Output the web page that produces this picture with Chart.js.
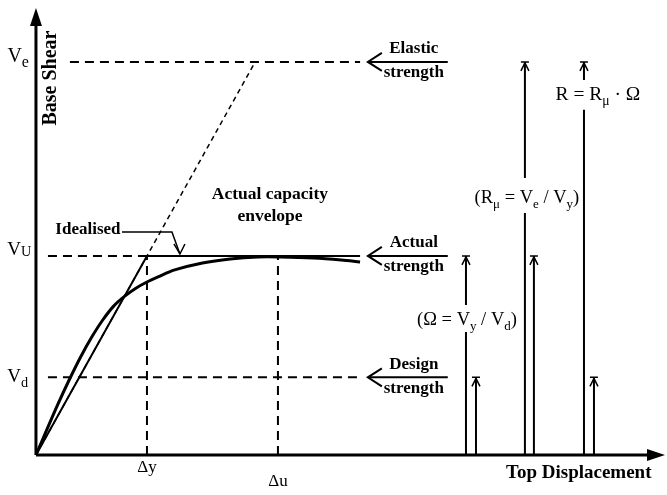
<!DOCTYPE html>
<html>
<head>
<meta charset="utf-8">
<script src="https://cdn.jsdelivr.net/npm/chart.js@4.4.1/dist/chart.umd.min.js"></script>
<style>
  body { margin: 0; background: #fff; }
  #chart { display: block; }
</style>
</head>
<body>
<canvas id="chart" width="667" height="495"></canvas>
<script>
// capacity curve (x: displacement / Δy, y: base shear / Vy)
const curveX = [0, 0.1, 0.2, 0.3, 0.4, 0.5, 0.6, 0.7, 0.8, 0.9, 1.0, 1.1, 1.25, 1.5, 1.75, 2.0, 2.2, 2.5, 2.75, 2.92];
const curveY = [0, 0.13, 0.258, 0.378, 0.49, 0.59, 0.677, 0.748, 0.798, 0.838, 0.869, 0.895, 0.93, 0.965, 0.985, 0.995, 0.995, 0.99, 0.98, 0.97];

// idealised bilinear envelope
const idealX = [0, 1.0, 2.92];
const idealY = [0, 1.0, 1.0];

// elastic response line
const elasticX = [0, 1.975];
const elasticY = [0, 1.975];

// force levels
const levelNames = ['Ve', 'VU', 'Vd'];
const levelValues = [1.975, 1.0, 0.39];
const levelStart = [0.306, 0.108, 0.108];
const levelEnd = [2.92, 1.0, 2.92];

// displacement levels
const dispNames = ['Δy', 'Δu'];
const dispValues = [1.0, 2.18];

// strength labels (arrow at each force level)
const strengthTop = ['Elastic', 'Actual', 'Design'];
const strengthBottom = ['strength', 'strength', 'strength'];
const strengthFrom = 2.99;
const strengthTo = 3.71;

// ratio arrows
const arrowX = [3.874, 3.964, 4.405, 4.486, 4.937, 5.027];
const arrowTop = [1.0, 0.39, 1.975, 1.0, 1.975, 0.39];
const arrowGapLow = [0.618, null, 1.216, null, 1.734, null];
const arrowGapHigh = [0.754, null, 1.392, null, 1.884, null];

// axis extents
const xAxisEnd = 5.667;
const yAxisEnd = 2.246;

const pts = (xs, ys) => xs.map((x, i) => ({ x: x, y: ys[i] }));

const black = '#000';
const datasets = [];

// axes
datasets.push({ data: [{ x: 0, y: 0 }, { x: xAxisEnd - 0.1, y: 0 }], borderWidth: 3 });
datasets.push({ data: [{ x: 0, y: 0 }, { x: 0, y: yAxisEnd - 0.05 }], borderWidth: 3 });

// dashed level lines
levelValues.forEach((v, i) => {
  datasets.push({ data: [{ x: levelStart[i], y: v }, { x: levelEnd[i], y: v }], borderWidth: 2, borderDash: [9, 6] });
});
dispValues.forEach(v => {
  datasets.push({ data: [{ x: v, y: 0 }, { x: v, y: 1.0 }], borderWidth: 2, borderDash: [9, 6] });
});

// elastic line
datasets.push({ data: pts(elasticX, elasticY), borderWidth: 1.5, borderDash: [5, 4] });
// idealised
datasets.push({ data: pts(idealX, idealY), borderWidth: 2 });
// actual curve
datasets.push({ data: pts(curveX, curveY), borderWidth: 3, tension: 0.35 });

// strength arrow lines
levelValues.forEach(v => {
  datasets.push({ data: [{ x: strengthFrom, y: v }, { x: strengthTo, y: v }], borderWidth: 2 });
});

// ratio arrows
arrowX.forEach((x, i) => {
  let d;
  if (arrowGapLow[i] !== null) {
    d = [{ x: x, y: 0 }, { x: x, y: arrowGapLow[i] }, { x: x, y: null }, { x: x, y: arrowGapHigh[i] }, { x: x, y: arrowTop[i] }];
  } else {
    d = [{ x: x, y: 0 }, { x: x, y: arrowTop[i] }];
  }
  datasets.push({ data: d, borderWidth: 2 });
});

// idealised leader
datasets.push({ data: [{ x: 0.775, y: 1.12 }, { x: 1.225, y: 1.12 }, { x: 1.297, y: 1.01 }], borderWidth: 1.5 });

datasets.forEach(d => {
  d.showLine = true;
  d.borderColor = black;
  d.pointRadius = 0;
  d.fill = false;
  d.spanGaps = false;
});

// text drawn with sub-scripts
function drawRich(ctx, parts, cx, cy, size, weight) {
  const fam = '"Liberation Serif", "Times New Roman", serif';
  let w = 0;
  parts.forEach(p => {
    const s = p.sub ? size * (p.scale || 0.7) : size;
    ctx.font = weight + ' ' + s + 'px ' + fam;
    p.w = ctx.measureText(p.t).width;
    w += p.w;
  });
  let x = cx - w / 2;
  ctx.textAlign = 'left';
  ctx.textBaseline = 'middle';
  parts.forEach(p => {
    const s = p.sub ? size * (p.scale || 0.7) : size;
    ctx.font = weight + ' ' + s + 'px ' + fam;
    ctx.fillText(p.t, x, cy + (p.sub ? size * (p.drop !== undefined ? p.drop : 0.35) : 0));
    x += p.w;
  });
}

const labelsPlugin = {
  id: 'labels',
  afterDatasetsDraw(chart) {
    const ctx = chart.ctx;
    const xs = chart.scales.x, ys = chart.scales.y;
    const px = v => xs.getPixelForValue(v);
    const py = v => ys.getPixelForValue(v);
    ctx.save();
    ctx.fillStyle = black;
    ctx.strokeStyle = black;

    // axis arrowheads
    const ox = px(0), oy = py(0);
    ctx.beginPath();
    ctx.moveTo(px(xAxisEnd), oy);
    ctx.lineTo(px(xAxisEnd) - 18, oy - 6);
    ctx.lineTo(px(xAxisEnd) - 18, oy + 6);
    ctx.closePath();
    ctx.fill();
    ctx.beginPath();
    ctx.moveTo(ox, py(yAxisEnd));
    ctx.lineTo(ox - 6, py(yAxisEnd) + 18);
    ctx.lineTo(ox + 6, py(yAxisEnd) + 18);
    ctx.closePath();
    ctx.fill();

    // strength chevrons and text
    levelValues.forEach((v, i) => {
      const x0 = px(strengthFrom), y0 = py(v);
      ctx.lineWidth = 2;
      ctx.beginPath();
      ctx.moveTo(x0 + 14, y0 - 9);
      ctx.lineTo(x0, y0);
      ctx.lineTo(x0 + 14, y0 + 9);
      ctx.stroke();
      const cx = (px(strengthFrom) + px(strengthTo)) / 2 + 6;
      drawRich(ctx, [{ t: strengthTop[i] }], cx, y0 - 13, 17, 'bold');
      drawRich(ctx, [{ t: strengthBottom[i] }], cx, y0 + 11, 17, 'bold');
    });

    // ratio arrowheads
    arrowX.forEach((x, i) => {
      const ax = px(x), ay = py(arrowTop[i]);
      ctx.lineWidth = 1.5;
      ctx.beginPath();
      ctx.moveTo(ax - 4, ay + 9);
      ctx.lineTo(ax, ay + 1);
      ctx.lineTo(ax + 4, ay + 9);
      ctx.moveTo(ax - 4, ay);
      ctx.lineTo(ax + 4, ay);
      ctx.stroke();
    });

    // idealised leader arrowhead
    const lx = px(1.297), ly = py(1.01);
    ctx.beginPath();
    ctx.moveTo(lx - 6, ly - 10);
    ctx.lineTo(lx, ly);
    ctx.lineTo(lx + 5, ly - 10);
    ctx.stroke();

    // level labels
    drawRich(ctx, [{ t: 'V' }, { t: 'e', sub: true, scale: 0.8, drop: 0.3 }], px(-0.16), py(2.0), 20, 'normal');
    drawRich(ctx, [{ t: 'V' }, { t: 'U', sub: true, scale: 0.75, drop: 0.12 }], px(-0.15), py(1.03), 19, 'normal');
    drawRich(ctx, [{ t: 'V' }, { t: 'd', sub: true, scale: 0.75, drop: 0.3 }], px(-0.165), py(0.39), 19, 'normal');
    drawRich(ctx, [{ t: dispNames[0] }], px(dispValues[0]), py(-0.065), 17, 'normal');
    drawRich(ctx, [{ t: dispNames[1] }], px(dispValues[1]), py(-0.135), 17, 'normal');

    drawRich(ctx, [{ t: 'Top Displacement' }], px(4.89), py(-0.09), 19, 'bold');
    drawRich(ctx, [{ t: 'Actual capacity' }], px(2.108), py(1.31), 17.5, 'bold');
    drawRich(ctx, [{ t: 'envelope' }], px(2.108), py(1.196), 17.5, 'bold');
    drawRich(ctx, [{ t: 'Idealised' }], px(0.468), py(1.131), 17, 'bold');

    drawRich(ctx, [{ t: '(Ω = V' }, { t: 'y', sub: true }, { t: ' / V' }, { t: 'd', sub: true }, { t: ')' }], px(3.883), py(0.678), 18.5, 'normal');
    drawRich(ctx, [{ t: '(R' }, { t: 'μ', sub: true }, { t: ' = V' }, { t: 'e', sub: true }, { t: ' / V' }, { t: 'y', sub: true }, { t: ')' }], px(4.423), py(1.291), 18.5, 'normal');
    drawRich(ctx, [{ t: 'R = R' }, { t: 'μ', sub: true }, { t: ' · Ω' }], px(5.063), py(1.809), 19.5, 'normal');

    // vertical axis title
    ctx.translate(px(0.13), py(1.894));
    ctx.rotate(-Math.PI / 2);
    drawRich(ctx, [{ t: 'Base Shear' }], 0, 0, 20, 'bold');
    ctx.restore();
  }
};

new Chart(document.getElementById('chart').getContext('2d'), {
  type: 'scatter',
  data: { datasets: datasets },
  options: {
    responsive: false,
    animation: false,
    layout: { padding: 0 },
    plugins: { legend: { display: false }, tooltip: { enabled: false } },
    scales: {
      x: { type: 'linear', min: -0.324, max: 5.685, display: false },
      y: { type: 'linear', min: -0.201, max: 2.286, display: false }
    }
  },
  plugins: [labelsPlugin]
});
</script>
</body>
</html>
